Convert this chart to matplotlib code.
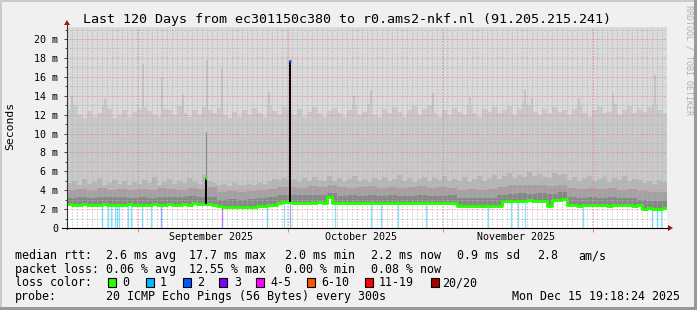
import datetime as dt
import numpy as np
import matplotlib
matplotlib.use("Agg")
import matplotlib.pyplot as plt
from matplotlib.patches import Rectangle, Polygon
from matplotlib.lines import Line2D

W, H = 697, 310
plt.rcParams['font.family'] = ['DejaVu Sans Mono']

start = dt.datetime(2025, 8, 17, 19, 18, 24)
n_days = 120

# median rtt per day (ms)
median = [2.50, 2.43, 2.42, 2.52, 2.44, 2.42, 2.43, 2.50, 2.47, 2.43, 2.42, 2.44, 2.52, 2.43,
          2.44, 2.43, 2.45, 2.53, 2.44, 2.43, 2.52, 2.46, 2.47, 2.50, 2.48, 2.60, 2.50, 2.52, 2.55, 2.48,
          2.30, 2.20, 2.17, 2.20, 2.18, 2.22, 2.20, 2.23,
          2.28, 2.35, 2.43, 2.42,
          2.68, 2.70, 2.72,
          2.66, 2.68, 2.64, 2.68, 2.66, 2.70, 2.66,
          3.25,
          2.60, 2.62, 2.64, 2.60, 2.62, 2.66, 2.62, 2.60, 2.63, 2.62, 2.66, 2.62, 2.60, 2.62, 2.60,
          2.64, 2.62, 2.60, 2.62, 2.63, 2.60, 2.62, 2.60, 2.62, 2.61,
          2.35, 2.33, 2.30, 2.33, 2.36, 2.33, 2.31, 2.35, 2.33,
          2.86, 2.84, 2.90, 2.86, 2.88, 2.92, 2.86, 2.90, 2.88,
          2.35,
          2.95, 2.98, 3.02,
          2.40, 2.43, 2.38, 2.42, 2.40, 2.44, 2.40, 2.42, 2.38, 2.43, 2.40, 2.42, 2.40, 2.38, 2.42,
          2.05, 2.08, 2.04, 2.06, 2.10]

# smoke band tops, 2-day bins (ms)
dark_top = [3.2, 3.3, 3.2, 3.3, 3.25, 3.3, 3.2,
            3.3, 3.2, 3.3, 3.25, 3.3, 3.35, 3.3, 3.3,
            3.0, 3.05, 3.0, 3.1,
            3.15, 3.25, 3.45,
            3.5, 3.45, 3.5, 3.45,
            3.7,
            3.4, 3.45, 3.4, 3.5, 3.4, 3.45, 3.4, 3.4, 3.45, 3.4, 3.4, 3.45,
            3.2, 3.15, 3.2, 3.2,
            3.5,
            3.65, 3.7, 3.65, 3.7,
            3.6, 3.8,
            3.25, 3.2, 3.25, 3.2, 3.25, 3.2, 3.2,
            3.0, 2.9, 2.9]
mid_top = [4.0, 4.1, 3.9, 4.2, 4.0, 4.1, 4.0,
           4.1, 4.0, 4.2, 4.1, 4.0, 4.2, 4.1, 4.3,
           3.8, 3.9, 3.8, 3.9,
           4.0, 4.1, 4.3,
           4.3, 4.2, 4.4, 4.3,
           4.5,
           4.3, 4.2, 4.3, 4.4, 4.2, 4.3, 4.2, 4.3, 4.4, 4.2, 4.3, 4.2,
           4.0, 4.1, 4.0, 4.1,
           4.3,
           4.5, 4.6, 4.5, 4.6,
           4.4, 4.6,
           4.2, 4.1, 4.2, 4.1, 4.2, 4.0, 4.1,
           3.9, 3.8, 3.8]

# smoke band tops, per day (ms)
light_top = [4.8, 5.0, 4.6, 5.2, 4.7, 4.9, 5.3, 4.6, 4.8, 5.1, 4.7, 5.0, 4.6, 4.9,
             4.7, 5.1, 4.8, 5.4, 4.6, 4.9, 5.2, 4.7, 5.0, 4.8, 5.3, 4.9, 4.7, 5.6, 5.0, 4.8,
             4.5, 4.7, 4.4, 4.8, 4.5, 4.6, 4.7, 4.5,
             4.8, 4.7, 5.0, 5.2, 5.1, 5.3, 5.0,
             5.2, 4.9, 5.3, 5.0, 5.4, 5.1, 5.0, 5.5,
             5.0, 5.3, 4.9, 5.2, 5.5, 5.0, 5.2, 4.9, 5.3, 5.1, 5.4, 5.0, 5.2, 5.6, 5.0, 5.3,
             4.9, 5.2, 5.4, 5.0, 5.3, 5.1, 5.5, 5.0, 5.2,
             5.0, 5.4, 4.9, 5.2, 5.5, 5.0, 5.3, 5.6, 5.2,
             5.5, 5.8, 5.3, 5.6, 5.4, 5.9, 5.5, 5.7, 5.4,
             5.3,
             5.8, 5.6, 5.7,
             5.1, 5.4, 5.0, 5.3, 5.5, 5.0, 5.2, 5.4, 4.9, 5.3, 5.1, 5.5, 5.0, 5.2, 5.1,
             4.8, 5.0, 4.7, 5.1, 4.9]
haze_top = [12.6, 13.0, 12.0, 11.6, 12.4, 11.8, 12.2, 12.9, 12.6, 11.6, 12.0, 12.5, 11.8, 12.3,
            12.6, 12.8, 12.4, 12.0, 11.7, 12.6, 12.5, 12.0, 12.9, 12.2, 11.8, 12.5, 12.0, 12.8, 12.5, 12.2,
            12.7, 12.0, 11.6, 12.3, 11.8, 12.5, 12.0, 12.7,
            12.2, 11.8, 13.0, 12.4, 12.0, 12.8, 12.5,
            12.0, 12.6, 11.7, 12.3, 12.8, 12.2, 11.8, 12.4,
            12.7, 12.2, 11.8, 12.5, 13.0, 12.0, 12.3, 13.1, 12.0, 11.7, 12.6, 12.2, 12.8, 12.3, 11.8,
            12.5, 12.9, 12.0, 12.6, 13.0, 12.2, 11.8, 12.5, 12.0, 12.7,
            12.3, 12.0, 13.0, 12.2, 11.8, 12.6, 12.3, 12.8, 12.2,
            12.5, 12.9, 12.0, 12.6, 13.2, 13.0, 12.3, 12.0, 12.6,
            12.2,
            12.8, 12.3, 12.5,
            12.0, 12.6, 13.0, 12.2, 11.8, 12.5, 12.8, 12.2, 12.3, 13.1, 12.0, 12.5, 12.9, 12.2, 12.6,
            12.3, 12.8, 13.0, 12.5, 12.2]

# thin smoke streaks reaching higher (day, top ms)
streak_day = [1.0, 7.5, 15.2, 19.0, 23.1, 27.9, 30.9, 40.3, 57.4, 60.8, 73.1, 80.6, 91.6, 93.0,
              102.4, 109.2, 117.6]
streak_top = [14.0, 13.6, 17.4, 16.0, 14.2, 17.8, 16.9, 14.4, 14.0, 14.6, 14.3, 13.9, 14.6, 13.8,
              13.8, 14.2, 16.2]

# short-lived median spikes
spike_day = [27.8, 44.6]
spike_val = [5.3, 17.7]
spike_smoke = [10.2, 17.7]
spike_loss = [0, 2]

# packet loss events (day, loss class)
loss_day = [6.9, 8.1, 8.8, 9.5, 9.9, 10.4, 12.2, 12.8, 14.9, 16.8, 18.7, 30.9, 40.0, 43.3,
            44.6, 53.5, 60.7, 62.7, 66.1, 71.7, 84.1, 88.7, 90.1, 91.5, 103.1, 117.0, 117.9, 118.8]
loss_cls = [1, 1, 1, 1, 1, 1, 1, 1, 1, 1, 2, 3, 1, 1,
            2, 1, 1, 1, 1, 1, 1, 1, 1, 1, 1, 1, 1, 1]

loss_colors = ['#26ff00', '#00b8ff', '#0059ff', '#7e00ff', '#ff00ff', '#ff5500', '#ff0000', '#a10000']
loss_names = ['0', '1', '2', '3', '4-5', '6-10', '11-19', '20/20']

y_top = 21.24


def fx(px):
    return px / W


def fy(py):
    return 1 - py / H


fig = plt.figure(figsize=(W / 100, H / 100), dpi=100)
fig.patch.set_facecolor('#f0f0f0')
ax = fig.add_axes([fx(67), fy(228), 600 / W, (228 - 27.3) / H])
ax.set_xlim(0, n_days)
ax.set_ylim(0, y_top)
ax.set_facecolor('white')

days = np.arange(n_days + 1)
bins = np.arange(0, n_days + 1, 2)


def ext(v):
    return np.append(v, v[-1])


ax.fill_between(days, 0, y_top, color='#dadada', lw=0, zorder=1)
ax.vlines(streak_day, 11, streak_top, color='#c4c4c4', lw=1.4, zorder=1)
ax.fill_between(days, 0, ext(haze_top), step='post', color='#c9c9c9', lw=0, zorder=1)
ax.fill_between(days, 0, ext(light_top), step='post', color='#b6b6b6', lw=0, zorder=1)
ax.fill_between(bins, 0, ext(mid_top), step='post', color='#a2a2a2', lw=0, zorder=1)
ax.fill_between(bins, 0, ext(dark_top), step='post', color='#878787', lw=0, zorder=1)
ax.fill_between(days, 0, ext(median), step='post', color='white', lw=0, zorder=1)

# grid
month_starts = [dt.datetime(2025, m, 1) for m in (9, 10, 11, 12)]
month_x = [(d - start).total_seconds() / 86400 for d in month_starts]
ax.set_xticks(month_x)
ax.set_xticks(np.arange(1, n_days), minor=True)
ax.set_yticks(np.arange(0, 21, 2))
ax.set_yticks(np.arange(0, 22, 1), minor=True)
ax.set_xticklabels([])
ax.set_yticklabels(['0'] + ['%d m' % v for v in range(2, 21, 2)])
ax.grid(which='minor', color='#b0b0b0', ls=(0, (1, 2)), lw=0.72)
ax.grid(which='major', color='#f07a7a', ls=(0, (1, 2)), lw=0.72)
ax.set_axisbelow(False)
ax.tick_params(axis='y', which='major', length=2, width=0.7, color='#404040', pad=4.3, labelsize=7.2)
ax.tick_params(axis='y', which='minor', length=1.5, width=0.7, color='#404040')
ax.tick_params(axis='x', which='major', length=3, width=0.7, color='#f07a7a')
ax.tick_params(axis='x', which='minor', length=0)
for s in ax.spines.values():
    s.set_visible(False)

# loss marks below the median
for d, c in zip(loss_day, loss_cls):
    ax.vlines(d, 0, median[int(d)], color=loss_colors[c], alpha=0.45, lw=1.0, zorder=3)

# median line
ax.step(days, ext(median), where='post', color=loss_colors[0], lw=2.1, zorder=4)
for d, v, s, c in zip(spike_day, spike_val, spike_smoke, spike_loss):
    ax.vlines(d, v, s, color='#8a8a8a', lw=0.8, zorder=3)
    ax.vlines(d, median[int(d)], v, color='black', lw=1.4, zorder=5)
    ax.hlines(v, d - 0.15, d + 0.15, color=loss_colors[c], lw=2.0, zorder=6)

# month labels
for m in (9, 10, 11):
    mid = (dt.datetime(2025, m, 15, 16) - start).total_seconds() / 86400
    ax.text(mid, -(237.5 - 228) / 200.7, dt.date(2025, m, 1).strftime('%B %Y'),
            transform=ax.get_xaxis_transform(), ha='center', va='center', fontsize=7.2)

# axes with arrows
fig.add_artist(Line2D([fx(67), fx(67)], [fy(229), fy(25)], color='#333333', lw=0.8))
fig.add_artist(Line2D([fx(62), fx(668)], [fy(228), fy(228)], color='black', lw=0.8))
fig.add_artist(Polygon([(fx(64), fy(25)), (fx(70), fy(25)), (fx(67), fy(20))], closed=True,
                       color='#9b1c1c', lw=0))
fig.add_artist(Polygon([(fx(668), fy(225)), (fx(668), fy(231)), (fx(673), fy(228))], closed=True,
                       color='#9b1c1c', lw=0))

fig.text(fx(347), fy(19), 'Last 120 Days from ec301150c380 to r0.ams2-nkf.nl (91.205.215.241)',
         ha='center', va='center', fontsize=9.6)
fig.text(fx(10), fy(126), 'Seconds', rotation=90, ha='center', va='center', fontsize=8.2)
fig.text(fx(689), fy(60), 'RRDTOOL / TOBI OETIKER', rotation=270, ha='center', va='center',
         fontsize=6, color='#b0b0b0')

# legend
rows = [259.3, 272.9, 286.5, 300.1]
legend_text = [
    [(16, 'median rtt:'), (107, '2.6 ms avg'), (190.5, '17.7 ms max'), (286, '2.0 ms min'),
     (372, '2.2 ms now'), (458, '0.9 ms sd'), (538, '2.8'), (579, 'am/s')],
    [(16, 'packet loss:'), (107, '0.06 % avg'), (190.5, '12.55 % max'), (286, '0.00 % min'),
     (372, '0.08 % now')],
    [(16, 'loss color:')],
    [(16, 'probe:'), (107, '20 ICMP Echo Pings (56 Bytes) every 300s'),
     (512.5, 'Mon Dec 15 19:18:24 2025')],
]
for row, items in zip(rows, legend_text):
    for x, t in items:
        fig.text(fx(x - 1), fy(row), t, ha='left', va='baseline', fontsize=8.4)

box_x = [108.3, 145.7, 182.7, 219, 256, 307.3, 365, 430.7]
label_x = [123.3, 160.7, 198.3, 235, 271, 322.3, 380, 443.3]
for bx, lx, col, name in zip(box_x, label_x, loss_colors, loss_names):
    fig.patches.append(Rectangle((fx(bx), fy(286.5)), 8 / W, 8.5 / H, transform=fig.transFigure,
                                 facecolor=col, edgecolor='black', lw=0.8))
    fig.text(fx(lx - 1), fy(rows[2]), name, ha='left', va='baseline', fontsize=8.4)

# outer frame
fig.patches.append(Rectangle((0, 1 - 2 / H), 1, 2 / H, transform=fig.transFigure, color='#cbcbcb', lw=0))
fig.patches.append(Rectangle((0, 0), 2 / W, 1, transform=fig.transFigure, color='#cbcbcb', lw=0))
fig.patches.append(Rectangle((0, 0), 1, 3 / H, transform=fig.transFigure, color='#999999', lw=0))
fig.patches.append(Rectangle((1 - 3 / W, 0), 3 / W, 1, transform=fig.transFigure, color='#999999', lw=0))

fig.savefig('out.png', dpi=100, facecolor=fig.get_facecolor())
